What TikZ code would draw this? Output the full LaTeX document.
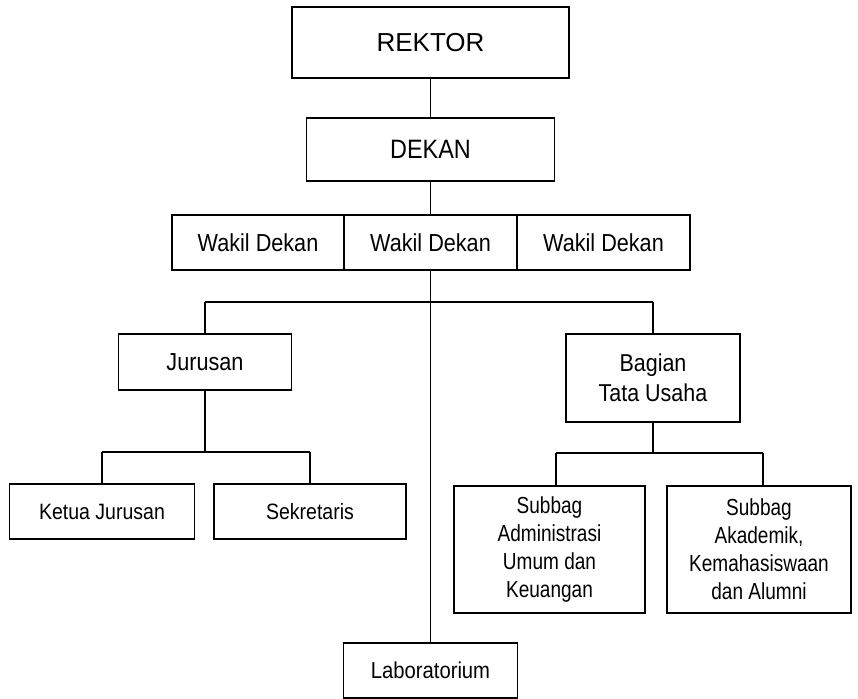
\documentclass[tikz,border=0pt]{standalone}
\usepackage{fontspec}
\setmainfont{Liberation Sans}
\newfontfamily\sempit[FakeStretch=0.88]{Liberation Sans}
\newfontfamily\sempitsekali[FakeStretch=0.82]{Liberation Sans}

\begin{document}

\begin{tikzpicture}[x=0.5pt,y=-0.5pt,
    kotak/.style={draw=black,line width=0.8pt,inner sep=1pt,align=center},
    garis/.style={draw=black,line width=0.9pt},
    garistebal/.style={draw=black,line width=1.4pt}]

    \useasboundingbox (0,0) rectangle (858,699);

    \node[kotak,minimum width=138.5pt,minimum height=35.5pt,
      font=\fontsize{13}{15}\selectfont] (rektor) at (430.5,42.5) {REKTOR};

    \node[kotak,minimum width=124pt,minimum height=31.5pt,
      font=\sempit\fontsize{13.3}{15}\selectfont] (dekan) at (430.5,149.5) {DEKAN};



    \node[kotak,minimum width=86pt,minimum height=27.5pt,
      font=\sempit\fontsize{12.3}{14}\selectfont] (wakil1) at (258,242.5) {Wakil Dekan};

    \node[kotak,minimum width=86.5pt,minimum height=27.5pt,
      font=\sempit\fontsize{12.3}{14}\selectfont] (wakil2) at (430.5,242.5) {Wakil Dekan};

    \node[kotak,minimum width=86.5pt,minimum height=27.5pt,
      font=\sempit\fontsize{12.3}{14}\selectfont] (wakil3) at (603.5,242.5) {Wakil Dekan};



    \node[kotak,minimum width=86.5pt,minimum height=28pt,
      font=\sempit\fontsize{12.3}{14}\selectfont] (jurusan) at (205,362) {Jurusan};

    \node[kotak,minimum width=87pt,minimum height=44pt,
      font=\sempit\fontsize{12.2}{15}\selectfont] (bagian) at (653,378)
    {Bagian\\
      Tata Usaha};



    \node[kotak,minimum width=92.5pt,minimum height=27.5pt,
      font=\sempit\fontsize{11.1}{13}\selectfont] (ketua) at (102,511.5) {Ketua Jurusan};

    \node[kotak,minimum width=96pt,minimum height=27.5pt,
      font=\sempit\fontsize{11.1}{13}\selectfont] (sekretaris) at (310,511.5) {Sekretaris};

    \node[kotak,minimum width=95.5pt,minimum height=63.5pt,
      font=\sempitsekali\fontsize{11.6}{14}\selectfont] (subbag1) at (549.5,549.5)
    {Subbag\\
      Administrasi\\
      Umum dan\\
      Keuangan};

    \node[kotak,minimum width=92pt,minimum height=63.5pt,
      font=\sempitsekali\fontsize{11.6}{14}\selectfont] (subbag2) at (759,549.5)
    {Subbag\\
      Akademik,\\
      Kemahasiswaan\\
      dan Alumni};



    \node[kotak,minimum width=87pt,minimum height=27.5pt,
      font=\sempit\fontsize{11.5}{13}\selectfont] (lab) at (430.5,670.5) {Laboratorium};



    \coordinate (cabang1) at (205,302);
    \coordinate (cabang2) at (653,302);
    \coordinate (kiri1) at (102,452);
    \coordinate (kiri2) at (310,452);
    \coordinate (kanan1) at (556,453);
    \coordinate (kanan2) at (763,453);

    \draw[garis] (rektor) -- (dekan);
    \draw[garis] (dekan) -- (wakil2);
    \draw[garis] (wakil2) -- (lab);

    \draw[garistebal] (cabang1) -- (cabang2);
    \draw[garis] (cabang1) -- (jurusan);
    \draw[garis] (cabang2) -- (bagian);

    \draw[garis] (jurusan) -- (jurusan |- kiri1);
    \draw[garistebal] (kiri1) -- (kiri2);
    \draw[garistebal] (kiri1) -- (ketua);
    \draw[garistebal] (kiri2) -- (sekretaris);

    \draw[garis] (bagian) -- (bagian |- kanan1);
    \draw[garistebal] (kanan1) -- (kanan2);
    \draw[garistebal] (kanan1) -- (kanan1 |- subbag1.north);
    \draw[garistebal] (kanan2) -- (kanan2 |- subbag2.north);

  \end{tikzpicture}

\end{document}
